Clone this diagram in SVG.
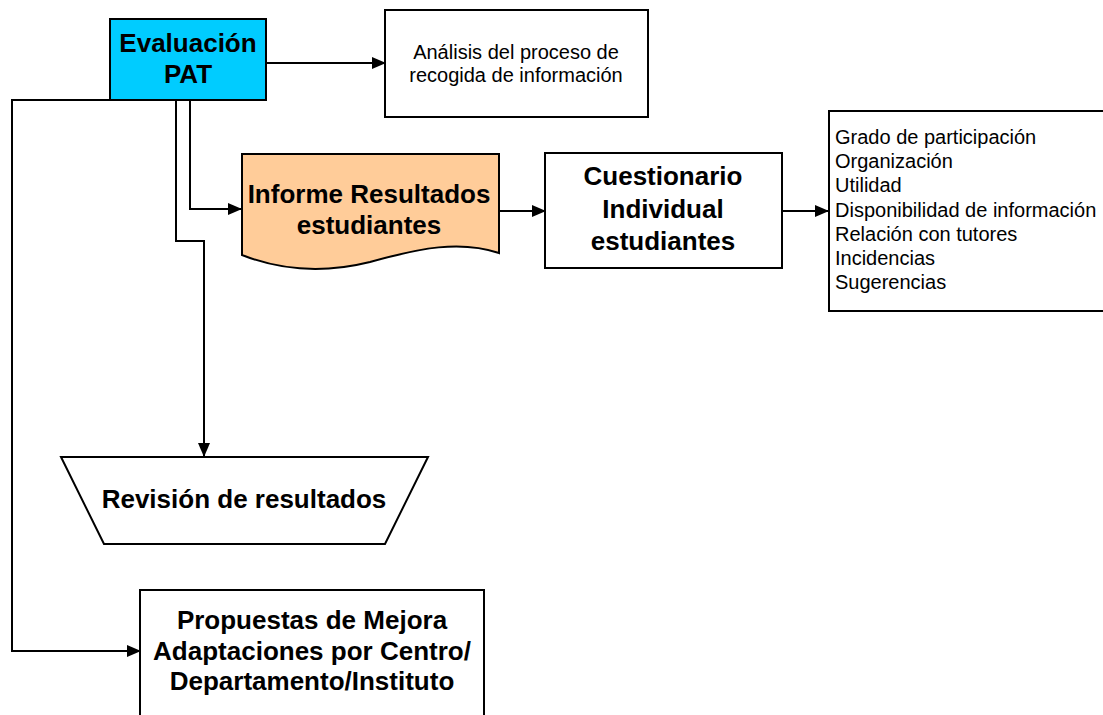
<svg xmlns="http://www.w3.org/2000/svg" width="1103" height="715" viewBox="0 0 1103 715">
<style>
.box{stroke:#000;stroke-width:2;fill:#fff}
.conn{stroke:#000;stroke-width:2;fill:none}
.b{font-family:"Liberation Sans",Arial,sans-serif;font-weight:bold;font-size:26px;fill:#000;text-anchor:middle}
.n{font-family:"Liberation Sans",Arial,sans-serif;font-size:20px;fill:#000}
</style>
<defs>
<marker id="arr" markerUnits="userSpaceOnUse" markerWidth="14" markerHeight="12" refX="13" refY="6" orient="auto">
<path d="M0,0 L14,6 L0,12 Z" fill="#000"/>
</marker>
</defs>
<rect width="1103" height="715" fill="#fff"/>
<g id="connectors">
<path class="conn" d="M266,63 H385" marker-end="url(#arr)"/>
<path class="conn" d="M190,100 V209 H241" marker-end="url(#arr)"/>
<path class="conn" d="M176,100 V241 H204 V456" marker-end="url(#arr)"/>
<path class="conn" d="M110,100 H12 V651 H140" marker-end="url(#arr)"/>
<path class="conn" d="M499,211 H545" marker-end="url(#arr)"/>
<path class="conn" d="M782,211 H828" marker-end="url(#arr)"/>
</g>
<g id="evaluacion">
<rect class="box" x="110" y="19" width="156" height="81" style="fill:#00CCFF"/>
<text class="b" x="188" y="52">Evaluación</text>
<text class="b" x="188" y="83">PAT</text>
</g>
<g id="analisis">
<rect class="box" x="385" y="10" width="263" height="107"/>
<text class="n" x="516" y="59" text-anchor="middle">Análisis del proceso de</text>
<text class="n" x="516" y="82" text-anchor="middle">recogida de información</text>
</g>
<g id="informe">
<path class="box" style="fill:#FFCC99" d="M242,154 H499 V253 C460,240 420,248 370,262 C330,272 285,272 242,255 Z"/>
<text class="b" x="369" y="203">Informe Resultados</text>
<text class="b" x="369" y="234">estudiantes</text>
</g>
<g id="cuestionario">
<rect class="box" x="545" y="153" width="237" height="115"/>
<text class="b" x="663" y="185">Cuestionario</text>
<text class="b" x="663" y="218">Individual</text>
<text class="b" x="663" y="250">estudiantes</text>
</g>
<g id="lista">
<rect class="box" x="829" y="111" width="290" height="200"/>
<text class="n" x="835" y="144">Grado de participación</text>
<text class="n" x="835" y="168">Organización</text>
<text class="n" x="835" y="192">Utilidad</text>
<text class="n" x="835" y="217">Disponibilidad de información</text>
<text class="n" x="835" y="241">Relación con tutores</text>
<text class="n" x="835" y="265">Incidencias</text>
<text class="n" x="835" y="289">Sugerencias</text>
</g>
<g id="revision">
<path class="box" d="M61,457 H428 L385,544 H104 Z"/>
<text class="b" x="244" y="508">Revisión de resultados</text>
</g>
<g id="propuestas">
<rect class="box" x="140" y="590" width="344" height="130"/>
<text class="b" x="312" y="629">Propuestas de Mejora</text>
<text class="b" x="312" y="660">Adaptaciones por Centro/</text>
<text class="b" x="312" y="690">Departamento/Instituto</text>
</g>
</svg>
